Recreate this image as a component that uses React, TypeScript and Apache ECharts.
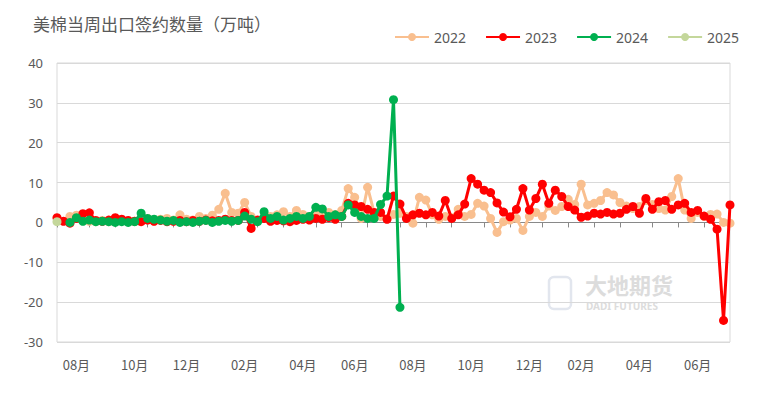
import React, { useEffect, useRef } from "react";
import * as echarts from "echarts";

// Weekly categories, Aug 2023 -> Aug 2025 (two seasons on one axis)
const categories: string[] = Array.from({ length: 105 }, (_, i) => {
  const d = new Date(2023, 7, 1 + 7 * i);
  const m = String(d.getMonth() + 1).padStart(2, "0");
  const day = String(d.getDate()).padStart(2, "0");
  return `${d.getFullYear()}-${m}-${day}`;
});

const labelMonths = ["08", "10", "12", "02", "04", "06"];
const legendNames = ["2022", "2023", "2024", "2025"];
const yTicks = { min: -30, max: 40, interval: 10 };

const s2022: (number | null)[] = [
  null, null, 1.5, 1.8, 0.6, 0.3, 0.2, 0.5, 0.2, 0.3,
  0.6, 0.4, 0.3, 0.5, 1.0, 0.4, 0.8, 1.0, 0.6, 1.9,
  0.8, 0.6, 1.5, 1.0, 1.8, 3.3, 7.3, 2.5, 2.3, 5.0,
  1.5, 0.5, 1.2, 1.5, 1.9, 2.7, 1.5, 3.0, 2.0, 1.5,
  2.5, 2.0, 2.5, 2.0, 3.0, 8.5, 6.3, 1.0, 8.8, 2.5,
  1.5, 1.0, 2.0, 2.3, 1.5, -0.2, 6.3, 5.6, 1.9, 0.8,
  1.5, 1.2, 3.3, 1.5, 2.0, 4.8, 4.1, 1.0, -2.5, 0.2,
  0.6, 1.0, -2.0, 1.5, 2.5, 1.5, 4.1, 3.0, 4.0, 5.8,
  4.5, 9.6, 4.4, 4.8, 5.5, 7.5, 6.9, 5.0, 4.1, 3.5,
  4.0, 5.5, 4.5, 3.5, 3.1, 6.5, 11.0, 3.1, 1.0, 2.5,
  1.5, 2.0, 2.1, 0.0, -0.2,
];

const s2023: (number | null)[] = [
  1.2, 0.3, -0.2, 1.0, 2.2, 2.4, 0.5, 0.3, 0.6, 1.2,
  0.8, 0.5, 0.3, 0.2, 0.6, 0.3, 0.5, 0.2, 0.3, 0.5,
  0.2, 0.5, 0.3, 0.6, 0.4, 0.5, 0.8, 0.5, 0.5, 2.5,
  -1.5, 0.6, 1.0, 0.3, 0.5, 0.4, 0.2, 0.5, 0.8, 0.6,
  1.0, 0.8, 1.2, 0.8, 1.5, 4.8, 4.4, 4.0, 3.3, 2.5,
  2.5, 0.8, 6.6, 4.6, 1.0, 1.9, 2.3, 1.9, 2.5, 1.6,
  5.5, 1.0, 1.9, 4.6, 11.0, 9.6, 8.1, 7.5, 4.9, 2.6,
  1.4, 3.3, 8.5, 3.1, 6.0, 9.6, 4.8, 8.1, 6.5, 4.0,
  3.1, 1.3, 1.6, 2.3, 2.1, 2.5, 2.1, 2.3, 3.3, 4.0,
  2.3, 6.0, 3.3, 5.2, 5.5, 3.3, 4.4, 4.8, 2.5, 3.0,
  1.6, 0.8, -1.7, -24.6, 4.4,
];

const s2024: (number | null)[] = [
  null, null, 0.0, 1.2, 0.3, 0.6, 0.2, 0.3, 0.2, 0.0,
  0.2, 0.0, 0.2, 2.3, 1.0, 0.8, 0.6, 0.3, 0.5, 0.0,
  0.2, 0.0, 0.3, 0.5, 0.0, 0.3, 0.5, 0.3, 0.5, 1.6,
  0.8, 0.2, 2.7, 1.0, 1.5, 0.6, 1.0, 1.5, 1.0, 1.5,
  3.8, 3.4, 1.5, 1.9, 1.5, 4.4, 2.5, 1.5, 1.0, 1.0,
  4.5, 6.6, 30.8, -21.3,
];

const s2025: (number | null)[] = [0.2];

const colors = ["#F9BF8F", "#FF0000", "#00B050", "#C4D79B"];

export default function App() {
  const ref = useRef<HTMLDivElement>(null);
  useEffect(() => {
    if (!ref.current) return;
    const chart = echarts.init(ref.current, undefined, { renderer: "svg" });
    const seriesData = [s2022, s2023, s2024, s2025];
    const option: any = {
      animation: false,
      color: colors,
      title: {
        text: "美棉当周出口签约数量（万吨）",
        left: 28,
        top: 10,
        textStyle: {
          fontSize: 17,
          fontWeight: "normal",
          color: "#595959",
          fontFamily: "Noto Sans CJK SC",
        },
      },
      legend: {
        data: legendNames,
        left: 389,
        top: 25,
        itemWidth: 34,
        itemHeight: 10,
        itemGap: 19,
        textStyle: { fontSize: 14, color: "#595959", fontFamily: "Noto Sans" },
      },
      grid: {
        left: 57,
        right: 42,
        top: 63,
        bottom: 51,
        show: true,
        borderColor: "#D9D9D9",
        borderWidth: 1,
      },
      xAxis: [
        {
          type: "category",
          data: categories,
          boundaryGap: false,
          position: "bottom",
          axisLine: { show: false, onZero: false },
          axisTick: { show: false },
          splitLine: { show: false },
          axisLabel: {
            interval: (_i: number, value: string) => {
              const parts = value.split("-");
              const d = Number(parts[2]);
              return labelMonths.includes(parts[1]) && d >= 18 && d <= 24;
            },
            formatter: (value: string) => value.split("-")[1] + "月",
            color: "#595959",
            fontSize: 13,
            margin: 16,
            fontFamily: "Noto Sans CJK SC",
          },
        },
        {
          type: "category",
          data: categories,
          boundaryGap: false,
          position: "bottom",
          axisLine: { show: true, onZero: true, lineStyle: { color: "#898989", width: 1 } },
          axisTick: {
            show: true,
            length: 5,
            interval: (_i: number, value: string) => Number(value.split("-")[2]) <= 7,
            lineStyle: { color: "#898989" },
          },
          axisLabel: { show: false },
          splitLine: { show: false },
        },
      ],
      yAxis: {
        type: "value",
        min: yTicks.min,
        max: yTicks.max,
        interval: yTicks.interval,
        axisLine: { show: false },
        axisTick: { show: false },
        splitLine: { lineStyle: { color: "#D9D9D9", width: 1 } },
        axisLabel: { color: "#595959", fontSize: 13, margin: 14, fontFamily: "Noto Sans" },
      },
      graphic: [
        {
          type: "rect",
          shape: { x: 549, y: 277, width: 22, height: 32, r: 5 },
          style: { fill: "none", stroke: "#E2E6EE", lineWidth: 2.5 },
          z: -1,
        },
        {
          type: "text",
          x: 585,
          y: 273,
          style: {
            text: "大地期货",
            font: 'bold 22px "Noto Sans CJK SC"',
            fill: "#DCDCDC",
          },
          z: -1,
        },
        {
          type: "text",
          x: 586,
          y: 301,
          style: {
            text: "DADI FUTURES",
            font: 'bold 10px "Noto Sans"',
            fill: "#DCDCDC",
          },
          z: -1,
        },
      ],
      series: legendNames.map((name, i) => ({
        name,
        type: "line",
        xAxisIndex: 0,
        data: seriesData[i],
        symbol: "circle",
        symbolSize: 9,
        showSymbol: true,
        showAllSymbol: true,
        lineStyle: { width: 3, color: colors[i] },
        itemStyle: { color: colors[i] },
        z: 2 + i,
      })),
    };
    chart.setOption(option);
    return () => chart.dispose();
  }, []);
  return (
    <div
      ref={ref}
      style={{ position: "absolute", left: 0, top: 0, width: 772, height: 393, background: "#fff" }}
    />
  );
}
